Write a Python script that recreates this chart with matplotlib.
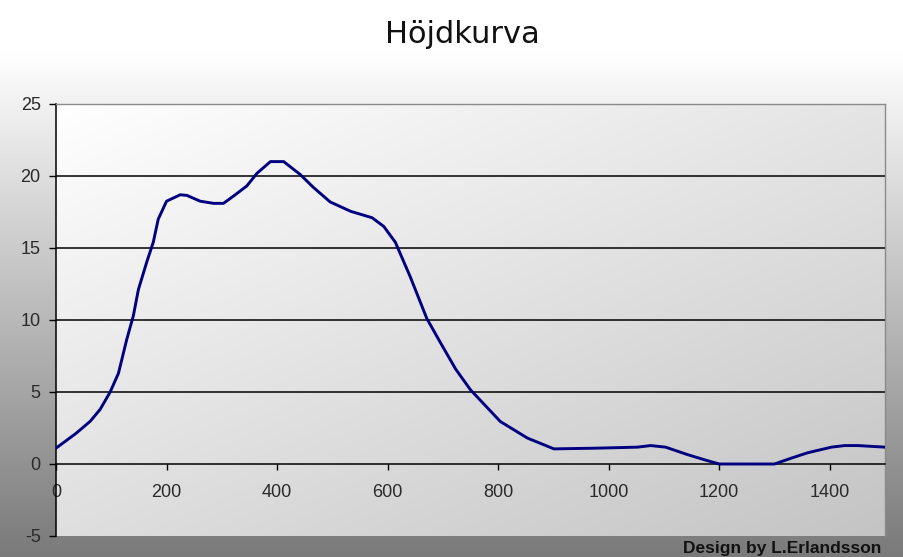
import numpy as np
import matplotlib
matplotlib.use("Agg")
import matplotlib.pyplot as plt
from matplotlib.colors import LinearSegmentedColormap

plt.rcParams["axes.unicode_minus"] = False

# -------------------------------------------------------------------
# Data
# -------------------------------------------------------------------
distance = [0, 37, 62, 80, 98, 113, 128, 140, 149, 164, 176, 185,
            200, 225, 237, 261, 285, 303, 321, 345, 364, 388, 412, 442,
            466, 496, 533, 572, 593, 614, 641, 671, 696, 723, 750, 804,
            853, 901, 978, 1052, 1076, 1103, 1142, 1178, 1200, 1250, 1300,
            1330, 1360, 1403, 1427, 1451, 1500]
height = [1.1, 2.15, 2.97, 3.8, 5.0, 6.3, 8.65, 10.3, 12.1, 14.0,
          15.4, 17.0, 18.25, 18.7, 18.65, 18.25, 18.1, 18.1, 18.6, 19.3,
          20.2, 21.0, 21.0, 20.1, 19.2, 18.2, 17.55, 17.1, 16.5, 15.4,
          13.0, 10.1, 8.4, 6.6, 5.15, 2.95, 1.8, 1.05, 1.1, 1.17, 1.28,
          1.17, 0.66, 0.24, 0.0, 0.0, 0.0, 0.4, 0.78, 1.17, 1.28, 1.28,
          1.17]

xticks = [0, 200, 400, 600, 800, 1000, 1200, 1400]
yticks = [-5, 0, 5, 10, 15, 20, 25]
gridlines = [5, 10, 15, 20]

W, H = 904, 557
fig = plt.figure(figsize=(W / 100, H / 100), dpi=100)

# -------------------------------------------------------------------
# Figure background: white at top fading to grey at the bottom
# -------------------------------------------------------------------
bg = fig.add_axes([0, 0, 1, 1], zorder=-10)
bg.axis("off")
rows = np.linspace(0, 1, 400)
shade = np.clip((rows - 0.09) / 0.91, 0, 1)
bg_cmap = LinearSegmentedColormap.from_list("bg", ["#ffffff", "#7a7a7a"])
bg.imshow(shade[:, None], cmap=bg_cmap, aspect="auto", vmin=0, vmax=1,
          extent=[0, 1, 0, 1], origin="upper")
bg.set_xlim(0, 1)
bg.set_ylim(0, 1)

left, right, top, bottom = 56, 885, 104, 536
ax = fig.add_axes([left / W, (H - bottom) / H, (right - left) / W, (bottom - top) / H])
ax.set_xlim(0, 1500)
ax.set_ylim(-5, 25)

# plot area: diagonal gradient, white top-left to grey bottom-right
fx, fy = np.meshgrid(np.linspace(0, 1, 200), np.linspace(0, 1, 200))
grad = 0.55 * fy + 0.45 * fx
pa_cmap = LinearSegmentedColormap.from_list("pa", ["#ffffff", "#c4c4c4"])
ax.imshow(grad, cmap=pa_cmap, aspect="auto", vmin=0, vmax=1,
          extent=[0, 1500, -5, 25], origin="upper", zorder=0)

for g in gridlines:
    ax.axhline(g, color="black", lw=1.1, zorder=1)

ax.plot(distance, height, color="#000080", lw=2.1, zorder=3,
        solid_joinstyle="round")

# -------------------------------------------------------------------
# Axes styling
# -------------------------------------------------------------------
ax.spines["bottom"].set_position(("data", 0))
ax.spines["bottom"].set_linewidth(1.1)
ax.spines["left"].set_linewidth(1.1)
for s in ["top", "right"]:
    ax.spines[s].set_color("#8a8a8a")
    ax.spines[s].set_linewidth(1.0)

ax.set_xticks(xticks)
ax.set_yticks(yticks)
ax.tick_params(axis="x", direction="out", length=4.5, width=1, pad=10,
               labelsize=13, colors="black", labelcolor="#2a2a2a")
ax.tick_params(axis="y", direction="out", length=5, width=1, pad=6,
               labelsize=13, colors="black", labelcolor="#2a2a2a")
for lab in ax.get_xticklabels() + ax.get_yticklabels():
    lab.set_family("Liberation Sans")

fig.text(462 / W, 1 - 43 / H, "Höjdkurva", ha="center", va="baseline",
         fontsize=22, family="DejaVu Sans", color="#111111")
fig.text(881 / W, 1 - 553 / H, "Design by L.Erlandsson", ha="right",
         va="baseline", fontsize=12.5, fontweight="bold",
         family="Liberation Sans", color="#111111")

fig.savefig("out.png", dpi=100)
